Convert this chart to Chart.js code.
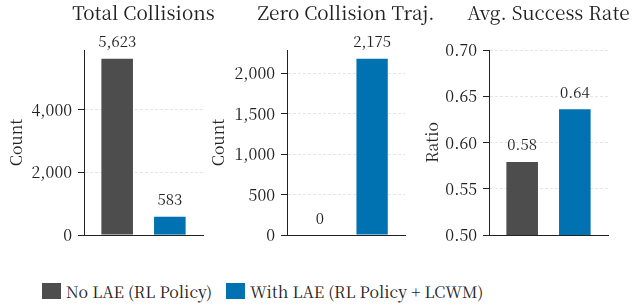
<!DOCTYPE html>
<html>
<head>
<meta charset="utf-8">
<script src="https://cdn.jsdelivr.net/npm/chart.js@4.4.0/dist/chart.umd.min.js"></script>
<style>
  body { margin: 0; background: #fff; width: 634px; height: 308px; position: relative; overflow: hidden; font-family: 'Noto Serif CJK SC', 'Liberation Serif', serif; }
  canvas { position: absolute; top: 0; }
  .item { position: absolute; top: 281px; height: 20px; display: flex; align-items: center; font-size: 16px; color: #222; white-space: nowrap; }
  .sw { display: inline-block; width: 19px; height: 16px; margin-right: 5px; }
</style>
</head>
<body>
<canvas id="c1" width="215" height="245" style="left:0px"></canvas>
<canvas id="c2" width="240" height="245" style="left:200px"></canvas>
<canvas id="c3" width="214" height="245" style="left:420px"></canvas>
<div id="legend"></div>
<script>
// data ---------------------------------------------------------------
const seriesNames = ['No LAE (RL Policy)', 'With LAE (RL Policy + LCWM)'];
const seriesColors = ['#4d4d4d', '#0072b2'];
const barPositions = [0, 1];

const panelTitles = ['Total Collisions', 'Zero Collision Traj.', 'Avg. Success Rate'];
const axisTitles = ['Count', 'Count', 'Ratio'];

const totalCollisions = [5623, 583];
const zeroCollisionTraj = [0, 2175];
const avgSuccessRate = [0.579, 0.636];

const collisionTicks = [0, 2000, 4000];
const zeroTrajTicks = [0, 500, 1000, 1500, 2000];
const successTicks = [0.50, 0.55, 0.60, 0.65, 0.70];

const serif = "'Noto Serif CJK SC', 'Liberation Serif', serif";
Chart.defaults.font.family = serif;
Chart.defaults.color = '#222';

const countFmt = v => v.toLocaleString('en-US');
const ratioFmt = v => v.toFixed(2);

// text above each bar + panel title centred over the plot area
const valueLabels = {
  id: 'valueLabels',
  afterDatasetsDraw(chart, args, opts) {
    const ctx = chart.ctx;
    const area = chart.chartArea;
    ctx.save();
    ctx.fillStyle = '#222';
    ctx.textAlign = 'center';
    ctx.textBaseline = 'alphabetic';
    ctx.font = '15px ' + serif;
    const ds = chart.data.datasets[0];
    chart.getDatasetMeta(0).data.forEach((bar, j) => {
      ctx.fillText(opts.format(ds.data[j].y), bar.x, bar.y - 11.5);
    });
    ctx.font = '19px ' + serif;
    ctx.fillText(opts.title, (area.left + area.right) / 2, 20);
    ctx.restore();
  }
};

function makePanel(id, title, yTitle, values, yTicks, yMin, yMax, fmt, axisWidth, rightPad, titlePad) {
  const ctx = document.getElementById(id).getContext('2d');
  return new Chart(ctx, {
    type: 'bar',
    data: {
      datasets: [{
        data: values.map((v, i) => ({ x: barPositions[i], y: v })),
        backgroundColor: seriesColors,
        borderWidth: 0,
        categoryPercentage: 1,
        barPercentage: 0.6
      }]
    },
    options: {
      responsive: false,
      animation: false,
      layout: { padding: { left: 0, right: rightPad, top: 50, bottom: 10 } },
      plugins: {
        legend: { display: false },
        tooltip: { enabled: false },
        title: { display: false },
        valueLabels: { format: fmt, title: title }
      },
      scales: {
        x: {
          type: 'linear',
          offset: false,
          min: -0.63,
          max: 1.63,
          ticks: { display: false },
          grid: { offset: false, drawOnChartArea: false, drawTicks: false },
          border: { color: '#222', width: 1 },
          afterFit: s => { s.height = 0; }
        },
        y: {
          min: yMin,
          max: yMax,
          afterBuildTicks: s => { s.ticks = yTicks.map(v => ({ value: v })); },
          ticks: {
            font: { size: 16 },
            color: '#222',
            padding: 6,
            callback: v => fmt(v)
          },
          title: {
            display: true,
            text: yTitle,
            font: { size: 16, lineHeight: 1.2 },
            color: '#222',
            padding: { top: titlePad, bottom: 0 }
          },
          grid: {
            color: 'rgba(0,0,0,0.13)',
            lineWidth: 0.8,
            tickColor: '#222',
            tickLength: 6,
            tickWidth: 1
          },
          border: { color: '#222', width: 1, dash: [3, 2] },
          afterFit: s => { s.width = axisWidth; s.paddingTop = 0; s.paddingBottom = 0; }
        }
      }
    },
    plugins: [valueLabels]
  });
}

makePanel('c1', panelTitles[0], axisTitles[0], totalCollisions, collisionTicks, 0, 5904, countFmt, 84, 12, 6);
makePanel('c2', panelTitles[1], axisTitles[1], zeroCollisionTraj, zeroTrajTicks, 0, 2284, countFmt, 87, 35, 8);
makePanel('c3', panelTitles[2], axisTitles[2], avgSuccessRate, successTicks, 0.5, 0.7, ratioFmt, 69, 26, 2.5);

// legend --------------------------------------------------------------
const legend = document.getElementById('legend');
const legendLeft = [42, 226];
seriesNames.forEach((name, i) => {
  const item = document.createElement('span');
  item.className = 'item';
  item.style.left = legendLeft[i] + 'px';
  const sw = document.createElement('span');
  sw.className = 'sw';
  sw.style.background = seriesColors[i];
  item.appendChild(sw);
  item.appendChild(document.createTextNode(name));
  legend.appendChild(item);
});
</script>
</body>
</html>
